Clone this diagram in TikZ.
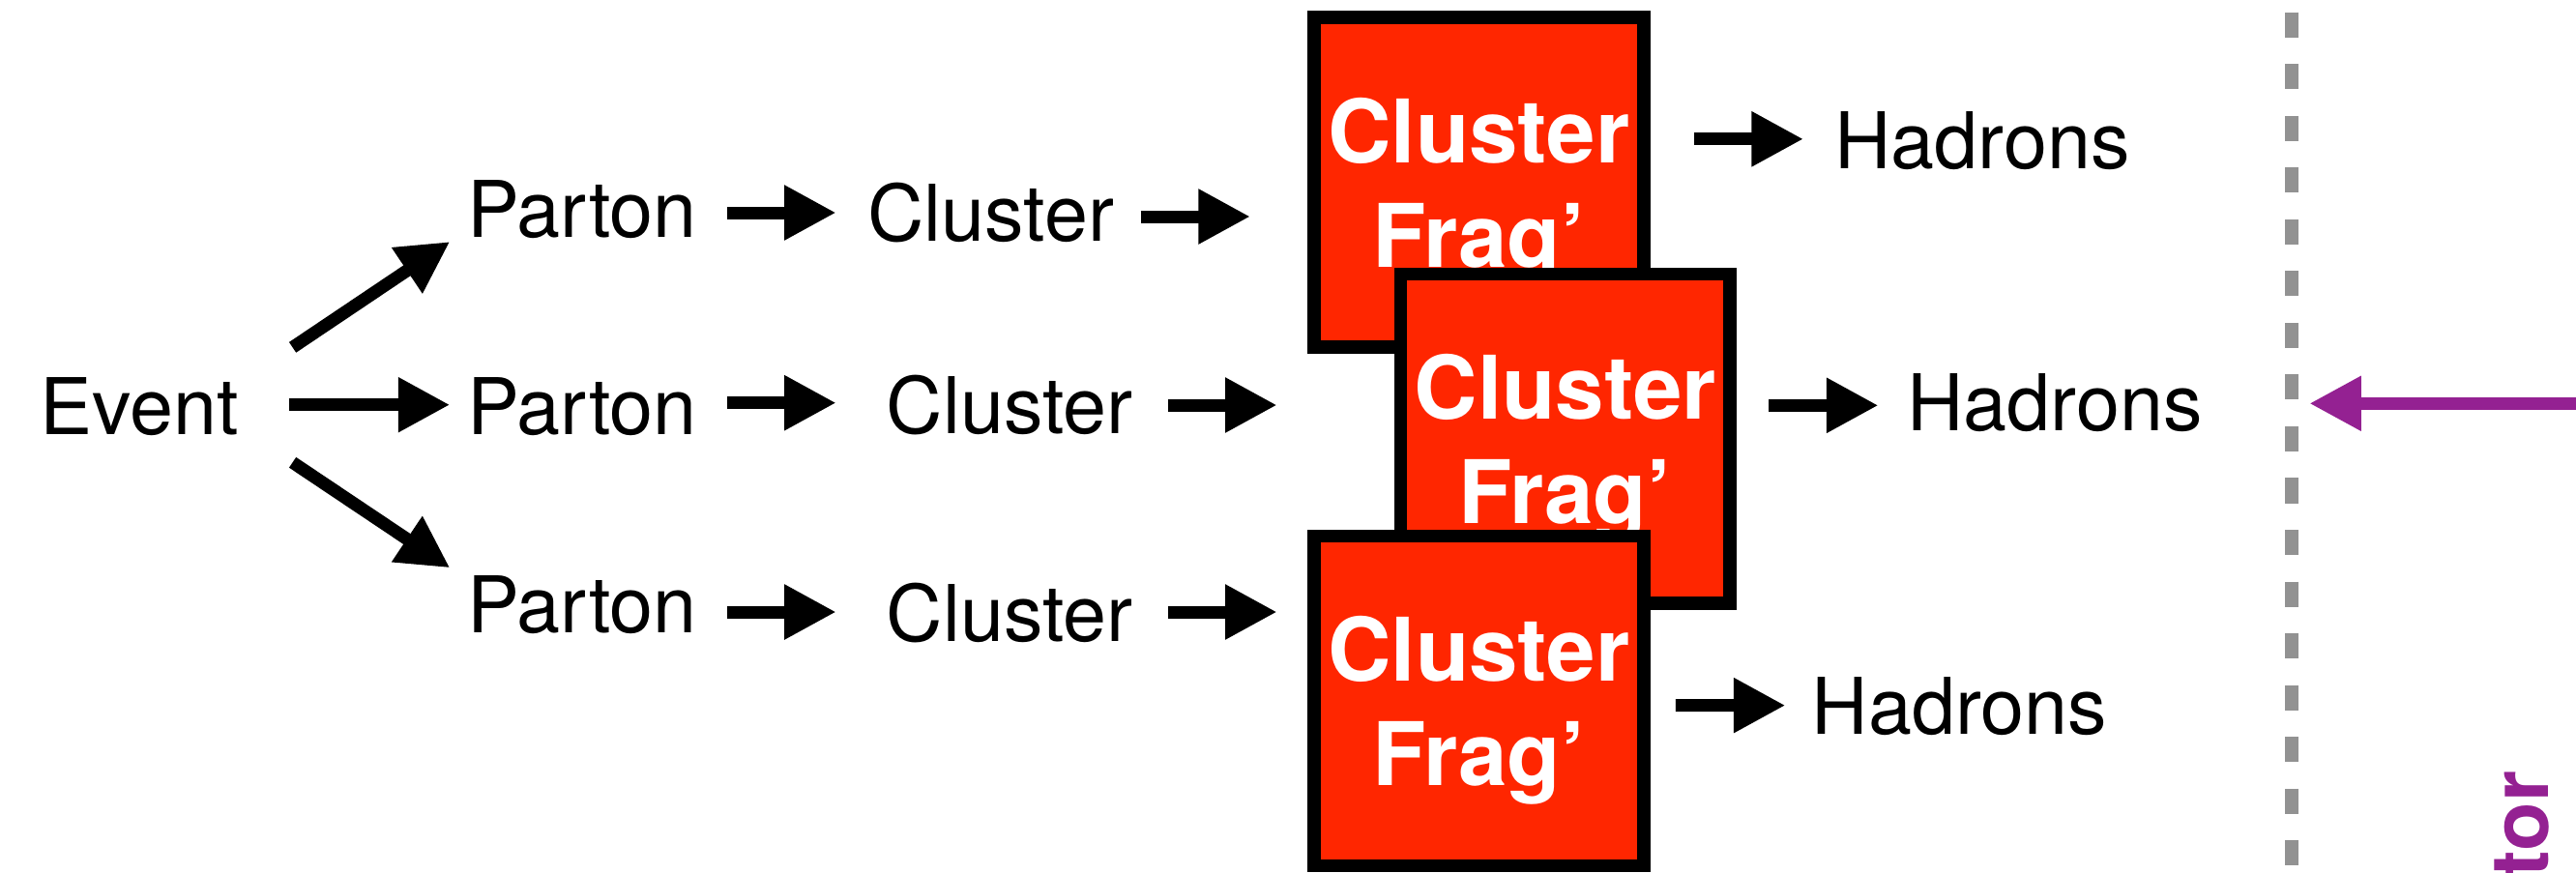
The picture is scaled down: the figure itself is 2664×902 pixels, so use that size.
\documentclass[tikz,border=0pt]{standalone}
\usepackage{fontspec}
\setmainfont{TeX Gyre Heros}
\usetikzlibrary{arrows.meta}
\definecolor{fragred}{RGB}{255, 38, 0}
\definecolor{linegray}{RGB}{146, 146, 146}
\definecolor{detpurple}{RGB}{148, 33, 146}
\tikzset{
	txt/.style={inner sep=0, anchor=base, font=\fontsize{23}{27}\selectfont},
	fragbox/.style={draw=black, fill=fragred, line width=0.135cm, minimum size=3.405cm, inner sep=0},
	fragtxt/.style={text=white, align=center, inner sep=0, font=\fontsize{25.8}{30.7}\selectfont\bfseries},
	arr/.style={line width=0.13cm, -{Triangle[length=0.535cm, width=0.535cm]}},
}

\begin{document}
\begin{tikzpicture}[x=0.01cm, y=-0.01cm]
			\useasboundingbox (0, 0) rectangle (2664, 902);
			% text
			\node[txt] (event) at (144, 449) {Event};
			\node[txt] (parton1) at (602, 245) {Parton};
			\node[txt] (parton2) at (602, 449) {Parton};
			\node[txt] (parton3) at (602, 654) {Parton};
			\node[txt] (cluster1) at (1024.8, 249) {Cluster};
			\node[txt] (cluster2) at (1044, 448) {Cluster};
			\node[txt] (cluster3) at (1044, 663) {Cluster};
			\node[txt] (hadrons1) at (2050, 174.2) {Hadrons};
			\node[txt] (hadrons2) at (2124.8, 445.2) {Hadrons};
			\node[txt] (hadrons3) at (2026.5, 759.5) {Hadrons};
			% boxes
			\node[fragbox] (frag1) at (1529.4, 188.5) {};
			\node[fragtxt] (frag1txt) at ([yshift=-0.1cm]frag1.center) {Cluster\\Frag’};
			\node[fragbox] (frag2) at (1618.6, 453.7) {};
			\node[fragtxt] (frag2txt) at ([yshift=-0.1cm]frag2.center) {Cluster\\Frag’};
			\node[fragbox] (frag3) at (1529.4, 724.9) {};
			\node[fragtxt] (frag3txt) at ([yshift=-0.1cm]frag3.center) {Cluster\\Frag’};
			% arrows
			\draw[arr] ([shift={(158.6, -89.7)}]event.base) -- ([shift={(-136.7, 5)}]parton1.base);
			\draw[arr] ([shift={(154.5, -30.3)}]event.base) -- ([shift={(-136.7, -30.3)}]parton2.base);
			\draw[arr] ([shift={(158.6, 29.3)}]event.base) -- ([shift={(-136.7, -66.7)}]parton3.base);
			\draw[arr] ([shift={(149.8, -25)}]parton1.base) -- ([shift={(-160.2, -29)}]cluster1.base);
			\draw[arr] ([shift={(149.8, -32.3)}]parton2.base) -- ([shift={(-179.3, -31.3)}]cluster2.base);
			\draw[arr] ([shift={(149.8, -21)}]parton3.base) -- ([shift={(-179.3, -30)}]cluster3.base);
			\draw[arr] ([shift={(154.9, -25)}]cluster1.base) -- ([shift={(-236.5, 35.5)}]frag1.center);
			\draw[arr] ([shift={(163.5, -29)}]cluster2.base) -- ([shift={(-298, -34.7)}]frag2.center);
			\draw[arr] ([shift={(163.5, -30)}]cluster3.base) -- ([shift={(-208.8, -91.9)}]frag3.center);
			\draw[arr] ([shift={(222.4, -44.7)}]frag1.center) -- ([shift={(-185, -30.4)}]hadrons1.base);
			\draw[arr] ([shift={(210.4, -34.4)}]frag2.center) -- ([shift={(-182.3, -25.9)}]hadrons2.base);
			\draw[arr] ([shift={(203.5, 4.7)}]frag3.center) -- ([shift={(-180.1, -29.9)}]hadrons3.base);
			% detector side
			\draw[linegray, line width=0.133cm, dash pattern=on 0.26cm off 0.275cm] (2370, 12.7) -- (2370, 902);
			\coordinate (detend) at (2700, 417.3);
			\coordinate (wall) at (2388.3, 417.3);
			\draw[arr, detpurple, line width=0.127cm] (detend) -- (wall);
			\node[rotate=90, anchor=base east, inner sep=0, text=detpurple, font=\fontsize{23.5}{28}\selectfont\bfseries] (det) at (2635, 797) {tor};
		\end{tikzpicture}
\end{document}
